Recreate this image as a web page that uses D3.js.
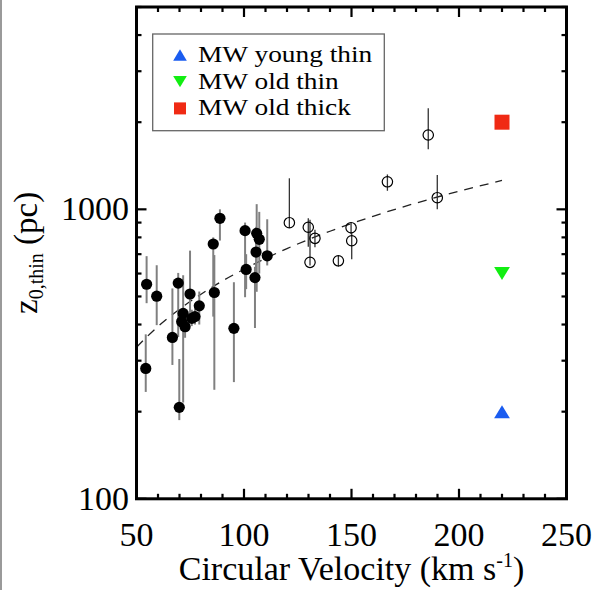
<!DOCTYPE html>
<html>
<head>
<meta charset="utf-8">
<script src="https://cdn.jsdelivr.net/npm/d3@7"></script>
<style>
  html, body { margin: 0; padding: 0; background: #fff; }
  svg { display: block; }
  text { font-family: "Liberation Serif", "DejaVu Serif", serif; fill: #000; }
</style>
</head>
<body>
<svg id="chart" width="597" height="590"></svg>
<script>
// ---- data ----
// filled galaxies: velocity, z0, error low, error high
const filledV  = [54.7, 59.4, 54.3, 66.7, 69.4, 69.9, 71.7, 71.0, 72.6, 75.7, 77.2, 79.2, 74.9, 85.7, 86.2, 88.8, 95.3, 100.5, 101.0, 105.9, 107.1, 105.6, 105.1, 110.8];
const filledZ  = [551, 501, 282, 361, 556, 207, 437, 409, 393, 420, 426, 464, 510, 759, 516, 931, 388, 844, 620, 826, 788, 712, 581, 691];
const filledLo = [474, 398, 234, 290, 362, 187, 215, 380, 360, 395, 400, 400, 415, 426, 238, 780, 253, 497, 530, 519, 600, 560, 389, 640];
const filledHi = [689, 641, 370, 533, 603, 304, 592, 440, 420, 450, 455, 520, 720, 800, 695, 1000, 560, 900, 700, 1042, 980, 870, 633, 924];

// open galaxies
const openV  = [185.7, 166.7, 189.9, 121.1, 129.9, 133.0, 130.7, 143.9, 149.8, 150.1];
const openZ  = [1806, 1245, 1097, 899, 867, 794, 656, 664, 864, 779];
const openLo = [1612, 1159, 1000, 862, 743, 740, 640, 634, 820, 672];
const openHi = [2233, 1320, 1314, 1280, 931, 850, 920, 690, 900, 830];

// dashed fit line, read at several velocities
const fitV = [50, 60, 70, 80, 90, 100, 120, 140, 160, 180, 200, 220];
const fitZ = [334, 394, 452, 509, 566, 621, 732, 840, 946, 1051, 1155, 1258];

// Milky Way components
const mwLabels = ["MW young thin", "MW old thin", "MW old thick"];
const mwV = [220, 220, 220];
const mwZ = [200, 600, 2000];
const mwColors = ["#1a5cf0", "#12ee12", "#f02a14"];
const mwShapes = ["up", "down", "square"];

const xTicks = [50, 100, 150, 200, 250];
const xMinor = d3.range(50, 251, 10);
const yTicks = [100, 1000];
const yMinor = [200, 300, 400, 500, 600, 700, 800, 900, 2000, 3000, 4000, 5000];

// ---- layout ----
const svg = d3.select("#chart");
const L = 136.5, R = 566.5, T = 7, B = 498.8;
const x = d3.scaleLinear().domain([50, 250]).range([L, R]);
const y = d3.scaleLog().domain([100, 5000]).range([B, T]);

// stray border line at the very left of the image
svg.append("rect").attr("x", 0).attr("y", 0).attr("width", 2).attr("height", 590).attr("fill", "#9a9a9a");

const plot = svg.append("g");

// dashed fit
const line = d3.line().x((d, i) => x(fitV[i])).y((d, i) => y(fitZ[i])).curve(d3.curveMonotoneX);
plot.append("path").datum(fitV).attr("d", line)
  .attr("fill", "none").attr("stroke", "#222").attr("stroke-width", 1.3)
  .attr("stroke-dasharray", "9,7");

// filled error bars
plot.selectAll(".febar").data(filledV).join("line")
  .attr("x1", d => x(d)).attr("x2", d => x(d))
  .attr("y1", (d, i) => y(filledLo[i])).attr("y2", (d, i) => y(filledHi[i]))
  .attr("stroke", "#808080").attr("stroke-width", 2);

// open error bars
plot.selectAll(".oebar").data(openV).join("line")
  .attr("x1", d => x(d)).attr("x2", d => x(d))
  .attr("y1", (d, i) => y(openLo[i])).attr("y2", (d, i) => y(openHi[i]))
  .attr("stroke", "#333").attr("stroke-width", 1.3);

// filled circles
plot.selectAll(".fpt").data(filledV).join("circle")
  .attr("cx", d => x(d)).attr("cy", (d, i) => y(filledZ[i])).attr("r", 5.6)
  .attr("fill", "#000");

// open circles
plot.selectAll(".opt").data(openV).join("circle")
  .attr("cx", d => x(d)).attr("cy", (d, i) => y(openZ[i])).attr("r", 5.2)
  .attr("fill", "none").attr("stroke", "#000").attr("stroke-width", 1.2);

// MW markers
function marker(g, shape, cx, cy, color, s) {
  if (shape === "square") {
    g.append("rect").attr("x", cx - s / 2).attr("y", cy - s / 2).attr("width", s).attr("height", s).attr("fill", color);
  } else {
    const h = s * 0.87, w = s * 1.05;
    const pts = shape === "up"
      ? [[cx - w / 2, cy + h / 2], [cx + w / 2, cy + h / 2], [cx, cy - h / 2]]
      : [[cx - w / 2, cy - h / 2], [cx + w / 2, cy - h / 2], [cx, cy + h / 2]];
    g.append("polygon").attr("points", pts.map(p => p.join(",")).join(" ")).attr("fill", color);
  }
}
mwV.forEach((v, i) => marker(plot, mwShapes[i], x(v), y(mwZ[i]), mwColors[i], 15));

// ---- axes: ticks inward on all four sides ----
const ax = svg.append("g").attr("stroke", "#000");
xTicks.forEach(v => {
  ax.append("line").attr("x1", x(v)).attr("x2", x(v)).attr("y1", B).attr("y2", B - 10).attr("stroke-width", 2.2);
  ax.append("line").attr("x1", x(v)).attr("x2", x(v)).attr("y1", T).attr("y2", T + 10).attr("stroke-width", 2.2);
});
xMinor.filter(v => !xTicks.includes(v)).forEach(v => {
  ax.append("line").attr("x1", x(v)).attr("x2", x(v)).attr("y1", B).attr("y2", B - 5).attr("stroke-width", 2.2);
  ax.append("line").attr("x1", x(v)).attr("x2", x(v)).attr("y1", T).attr("y2", T + 5).attr("stroke-width", 2.2);
});
yTicks.forEach(v => {
  ax.append("line").attr("y1", y(v)).attr("y2", y(v)).attr("x1", L).attr("x2", L + 10).attr("stroke-width", 2.2);
  ax.append("line").attr("y1", y(v)).attr("y2", y(v)).attr("x1", R).attr("x2", R - 10).attr("stroke-width", 2.2);
});
yMinor.forEach(v => {
  ax.append("line").attr("y1", y(v)).attr("y2", y(v)).attr("x1", L).attr("x2", L + 5).attr("stroke-width", 2.2);
  ax.append("line").attr("y1", y(v)).attr("y2", y(v)).attr("x1", R).attr("x2", R - 5).attr("stroke-width", 2.2);
});
// frame
svg.append("rect").attr("x", L).attr("y", T).attr("width", R - L).attr("height", B - T)
  .attr("fill", "none").attr("stroke", "#000").attr("stroke-width", 3);

// tick labels
svg.selectAll(".xl").data(xTicks).join("text")
  .attr("x", d => x(d)).attr("y", 546).attr("text-anchor", "middle")
  .attr("font-size", 34).text(d => d);
svg.selectAll(".yl").data(yTicks).join("text")
  .attr("x", 129).attr("y", d => y(d) + 11).attr("text-anchor", "end")
  .attr("font-size", 34).text(d => d);

// axis titles
const xt = svg.append("text").attr("x", (L + R) / 2).attr("y", 580).attr("text-anchor", "middle").attr("font-size", 34);
xt.append("tspan").text("Circular Velocity (km s");
xt.append("tspan").attr("dy", -13).attr("font-size", 20).text("-1");
xt.append("tspan").attr("dy", 13).text(")");

const yt = svg.append("text").attr("transform", `translate(37,${(T + B) / 2}) rotate(-90)`)
  .attr("text-anchor", "middle").attr("font-size", 33);
yt.append("tspan").text("z");
yt.append("tspan").attr("dy", 6).attr("font-size", 20).text("0,thin");
yt.append("tspan").attr("dy", -6).text(" (pc)");

// legend
const lg = svg.append("g");
lg.append("rect").attr("x", 152.7).attr("y", 34).attr("width", 231.6).attr("height", 96.7)
  .attr("fill", "#fff").attr("stroke", "#666").attr("stroke-width", 1.3);
mwLabels.forEach((t, i) => {
  const by = 62 + i * 26.7;
  marker(lg, mwShapes[i], 180, by - 7, mwColors[i], i === 2 ? 12 : 13);
  lg.append("text").attr("transform", `translate(198,${by}) scale(1.14,1)`)
    .attr("font-size", 24).text(t);
});
</script>
</body>
</html>
